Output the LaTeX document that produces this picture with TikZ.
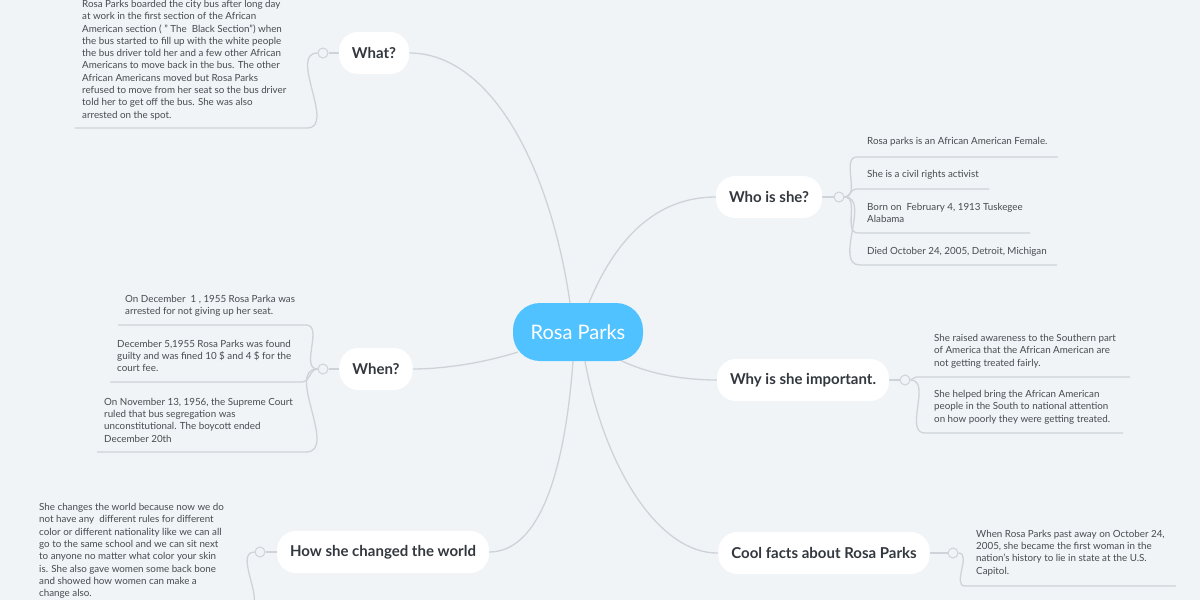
\documentclass[tikz,border=0pt]{standalone}
\usepackage{fontspec}
\setmainfont{Lato}
\usetikzlibrary{positioning}
\pgfdeclarelayer{back}
\pgfsetlayers{back,main}
\definecolor{bg}{RGB}{240,244,247}
\definecolor{rootblue}{RGB}{80,194,255}
\definecolor{wiregray}{RGB}{205,211,216}
\definecolor{leaftext}{RGB}{72,76,80}
\definecolor{labeltext}{RGB}{50,56,62}

\begin{document}
\begin{tikzpicture}[x=1pt, y=-1pt]
\tikzstyle{root}=[fill=rootblue, text=white, rounded corners=27pt, minimum width=130pt, minimum height=58pt, font=\fontsize{20}{23}\selectfont]
\tikzstyle{topic}=[fill=white, text=labeltext, rounded corners=19pt, minimum height=42pt, inner xsep=13pt, font=\fontsize{15}{17}\selectfont\bfseries]
\tikzstyle{leaf}=[text=leaftext, align=left, inner sep=0pt, anchor=west, font=\fontsize{9.8}{12.3}\selectfont]
\tikzstyle{knob}=[circle, draw=wiregray, fill=bg, line width=1pt, minimum size=10pt, inner sep=0pt]
\tikzstyle{link}=[draw=wiregray, line width=1.3pt]

\useasboundingbox (0,0) rectangle (1200,600);

\node[root] (rosa) at (578,332) {Rosa Parks};

\node[topic] (what) at (374,53) {What?};
\node[topic] (who) at (769,197) {Who is she?};
\node[topic] (when) at (376,369) {When?};
\node[topic] (why) at (803,380) {Why is she important.};
\node[topic] (how) at (383,552) {How she changed the world};
\node[topic] (cool) at (824,553) {Cool facts about Rosa Parks};

\node[knob] (whatk) at (323,53) {};
\node[knob] (whok) at (839,197) {};
\node[knob] (whenk) at (323,369) {};
\node[knob] (whyk) at (905,380) {};
\node[knob] (howk) at (260,552) {};
\node[knob] (coolk) at (953,553) {};

\node[leaf] (h1) at (82,60) {Rosa Parks boarded the city bus after long day\\at work in the first section of the African\\American section ( " The\ \ Black Section") when\\the bus started to fill up with the white people\\the bus driver told her and a few other African\\Americans to move back in the bus. The other\\African Americans moved but Rosa Parks\\refused to move from her seat so the bus driver\\told her to get off the bus. She was also\\arrested on the spot.};

\node[leaf] (w1) at (867,142) {Rosa parks is an African American Female.};
\node[leaf] (w2) at (867,175) {She is a civil rights activist};
\node[leaf] (w3) at (867,213) {Born on\ \ February 4, 1913 Tuskegee\\Alabama};
\node[leaf] (w4) at (867,252) {Died October 24, 2005, Detroit, Michigan};

\node[leaf] (n1) at (125,306) {On December\ \ 1 , 1955 Rosa Parka was\\arrested for not giving up her seat.};
\node[leaf] (n2) at (117,356) {December 5,1955 Rosa Parks was found\\guilty and was fined 10 \$ and 4 \$ for the\\court fee.};
\node[leaf] (n3) at (104,420) {On November 13, 1956, the Supreme Court\\ruled that bus segregation was\\unconstitutional. The boycott ended\\December 20th};

\node[leaf] (y1) at (934,351) {She raised awareness to the Southern part\\of America that the African American are\\not getting treated fairly.};
\node[leaf] (y2) at (934,407) {She helped bring the African American\\people in the South to national attention\\on how poorly they were getting treated.};

\node[leaf] (g1) at (39,551) {She changes the world because now we do\\not have any\ \ different rules for different\\color or different nationality like we can all\\go to the same school and we can sit next\\to anyone no matter what color your skin\\is. She also gave women some back bone\\and showed how women can make a\\change also.};

\node[leaf] (c1) at (976,553) {When Rosa Parks past away on October 24,\\2005, she became the first woman in the\\nation’s history to lie in state at the U.S.\\Capitol.};

\coordinate (h1s) at (307,128); \coordinate (h1e) at (75,128);
\coordinate (w1s) at (857,157); \coordinate (w1e) at (1058,157);
\coordinate (w2s) at (856,189); \coordinate (w2e) at (989,189);
\coordinate (w3s) at (858,233); \coordinate (w3e) at (1030,233);
\coordinate (w4s) at (860,265); \coordinate (w4e) at (1057,265);
\coordinate (n1s) at (306,325); \coordinate (n1e) at (118,325);
\coordinate (n2s) at (302,382); \coordinate (n2e) at (110,382);
\coordinate (n3s) at (306,452); \coordinate (n3e) at (97,452);
\coordinate (y1s) at (916,377); \coordinate (y1e) at (1130,377);
\coordinate (y2s) at (925,433); \coordinate (y2e) at (1123,433);
\coordinate (g1s) at (247,608); \coordinate (g1e) at (30,608);
\coordinate (c1s) at (965,586); \coordinate (c1e) at (1176,586);

\begin{pgfonlayer}{back}
\fill[bg] (0,0) rectangle (1200,600);
\draw[link] ([xshift=-8pt]rosa.north) .. controls (550,165) and (490,53) .. (what.east);
\draw[link] ([xshift=11pt]rosa.north) .. controls (615,240) and (655,197) .. (who.west);
\draw[link] ([shift={(-60,20)}]rosa.center) .. controls (480,364) and (440,369) .. (when.east);
\draw[link] ([shift={(38,26)}]rosa.center) .. controls (650,376) and (690,380) .. (why.west);
\draw[link] ([xshift=-5pt]rosa.south) .. controls (565,470) and (540,552) .. (how.east);
\draw[link] ([xshift=7pt]rosa.south) .. controls (605,470) and (660,554) .. (cool.west);

\draw[link] (what.west) -- (whatk);
\draw[link] (who.east) -- (whok);
\draw[link] (when.west) -- (whenk);
\draw[link] (why.east) -- (whyk);
\draw[link] (how.west) -- (howk);
\draw[link] (cool.east) -- (coolk);

\draw[link] (whatk.west) to[out=180,in=0] (h1s) -- (h1e);
\foreach \w in {w1,w2,w3,w4}
  \draw[link] (whok.east) to[out=0,in=180] (\w s) -- (\w e);
\foreach \n in {n1,n2,n3}
  \draw[link] (whenk.west) to[out=180,in=0] (\n s) -- (\n e);
\foreach \y in {y1,y2}
  \draw[link] (whyk.east) to[out=0,in=180] (\y s) -- (\y e);
\draw[link] (howk.west) to[out=180,in=0] (g1s) -- (g1e);
\draw[link] (coolk.east) to[out=0,in=180] (c1s) -- (c1e);
\end{pgfonlayer}
\end{tikzpicture}
\end{document}
